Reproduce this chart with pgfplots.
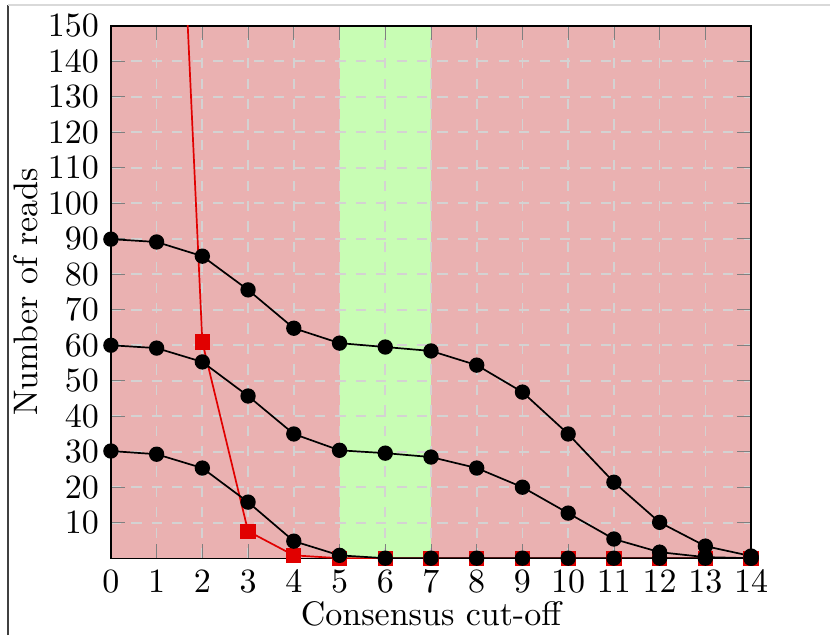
\documentclass[border=0pt]{standalone}
\usepackage{pgfplots}
\pgfplotsset{compat=1.18}
\definecolor{redbg}{RGB}{234,177,177}
\definecolor{greenbg}{RGB}{200,253,180}
\definecolor{gridc}{RGB}{212,210,210}
\definecolor{myred}{RGB}{225,0,0}
\begin{document}
\begin{tikzpicture}
\pgfplotsset{set layers}
\begin{axis}[
  name=ax,
  scale only axis,
  width=188.2pt, height=156.5pt,
  xmin=0, xmax=14, ymin=0, ymax=150,
  xtick={0,1,...,14},
  ytick={10,20,...,150},
  grid=major,
  major grid style={gridc, dashed, line width=0.5pt},
  tick style={gray},
  xlabel={Consensus cut-off},
  ylabel={Number of reads},
  xlabel style={yshift=4pt},
  ylabel style={yshift=-4pt},
  clip=true,
]
\addplot[draw=none, fill=redbg, on layer=axis background] coordinates {(0,150) (14,150)} \closedcycle;
\addplot[draw=none, fill=greenbg, on layer=axis background] coordinates {(5,150) (7,150)} \closedcycle;

\addplot[myred, line width=0.5pt, mark=square*, mark size=2pt, mark options={fill=myred, draw=myred}]
coordinates {(1,340) (2,60.9) (3,7.6) (4,0.8) (5,0) (6,0) (7,0) (8,0) (9,0) (10,0) (11,0) (12,0) (13,0) (14,0)};

\addplot[black, line width=0.5pt, mark=*, mark size=2pt]
coordinates {(0,89.9) (1,89.1) (2,85.1) (3,75.6) (4,64.8) (5,60.6) (6,59.5) (7,58.4) (8,54.4) (9,46.8) (10,35.0) (11,21.4) (12,10.1) (13,3.4) (14,0.6)};
\addplot[black, line width=0.5pt, mark=*, mark size=2pt]
coordinates {(0,60) (1,59.2) (2,55.3) (3,45.7) (4,35.0) (5,30.4) (6,29.6) (7,28.5) (8,25.4) (9,20.0) (10,12.7) (11,5.4) (12,1.7) (13,0.3) (14,0)};
\addplot[black, line width=0.5pt, mark=*, mark size=2pt]
coordinates {(0,30.2) (1,29.3) (2,25.4) (3,15.8) (4,4.8) (5,0.8) (6,0) (7,0) (8,0) (9,0) (10,0) (11,0) (12,0) (13,0) (14,0)};
\end{axis}
\pgfresetboundingbox
\path[use as bounding box] ([xshift=-32.6pt,yshift=-22.6pt]ax.south west) rectangle ([xshift=23.2pt,yshift=7.6pt]ax.north east);
\draw[black!75, line width=0.5pt] ([xshift=-30.25pt,yshift=-22.6pt]ax.south west) -- ([xshift=-30.25pt,yshift=6.1pt]ax.north west);
\draw[black!15, line width=0.5pt] ([xshift=-30.25pt,yshift=6.1pt]ax.north west) -- ([xshift=23.2pt,yshift=6.1pt]ax.north east);
\end{tikzpicture}
\end{document}
